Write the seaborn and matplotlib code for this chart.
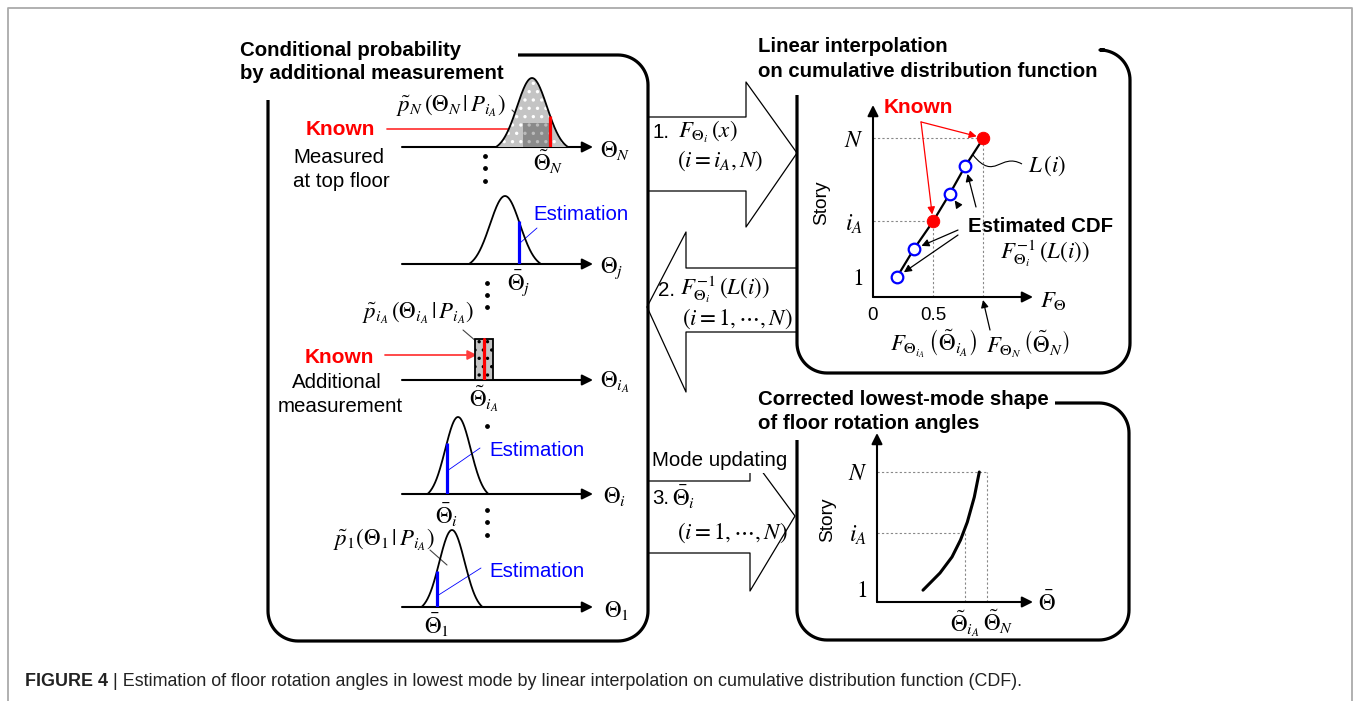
import numpy as np
import seaborn as sns
import matplotlib
matplotlib.use("Agg")
import matplotlib.pyplot as plt
from matplotlib.path import Path
from matplotlib.patches import PathPatch

# ---- values ----
# distribution rows: theta measured along each row's axis (0 = axis start)
row_names = ["N", "j", "i", "1"]
row_axis_y = [147, 264, 494, 607]          # where each row's axis sits (px)
row_means = [130, 103, 56, 50]
row_sigmas = [15, 15, 12.7, 12.7]
row_peaks = [69, 68, 77, 77]
row_marks = [148, 117, 45, 35]              # known value (N) and estimations
shade_N = [121, 148]                        # darker overlap under the top bell
shade_N_top = 24
iA_axis_y = 380
iA_rect = [73, 91]
iA_rect_height = 41
iA_known = 82

# CDF panel
cdf_story = [1, 2, 3, 4, 5, 6]
cdf_value = [0.20, 0.34, 0.50, 0.64, 0.77, 0.92]
cdf_known = [False, False, True, False, False, True]
cdf_yticks = [1, 3, 6]
cdf_yticklabels = ["$1$", "$i_A$", "$N$"]
cdf_xticks = [0, 0.5]
cdf_xticklabels = ["0", "0.5"]

# corrected mode shape panel
mode_theta = [0.46, 0.63, 0.75, 0.835, 0.903, 0.973, 1.023]
mode_story = [0.91, 1.65, 2.34, 3.07, 3.84, 4.92, 6.0]
mode_yticks = [1, 3.37, 6]
mode_yticklabels = ["$1$", "$i_A$", "$N$"]
mode_theta_iA = 0.88
mode_theta_N = 1.10

W, H = 1356, 701

sns.set_theme(style="white")
plt.rcParams["font.family"] = ["Liberation Sans", "DejaVu Sans"]
plt.rcParams["mathtext.fontset"] = "stix"
plt.rcParams["hatch.linewidth"] = 1.2
for key in ["text.color", "axes.labelcolor", "xtick.color", "ytick.color"]:
    plt.rcParams[key] = "black"

fig = plt.figure(figsize=(W / 100, H / 100), dpi=100)
ov = fig.add_axes([0, 0, 1, 1])
ov.set_xlim(0, W)
ov.set_ylim(H, 0)
ov.axis("off")


def px_axes(x0, y0, x1, y1):
    ax = fig.add_axes([x0 / W, 1 - y1 / H, (x1 - x0) / W, (y1 - y0) / H])
    ax.set_facecolor("none")
    return ax


def bell(mu, sd, peak, cut=2.4):
    x = np.linspace(mu - cut * sd, mu + cut * sd, 161)
    z = (x - mu) / sd
    c = np.exp(-cut ** 2 / 2)
    y = peak * (np.exp(-z ** 2 / 2) - c) / (1 - c)
    return x, y


def panel(x_start, top, right, bottom, left, y_start, r=30):
    t = np.linspace(0, np.pi / 2, 20)
    xs = [x_start, right - r]
    ys = [top, top]
    xs += list(right - r + r * np.sin(t)); ys += list(top + r - r * np.cos(t))
    xs += [right]; ys += [bottom - r]
    xs += list(right - r + r * np.cos(t)); ys += list(bottom - r + r * np.sin(t))
    xs += [left + r]; ys += [bottom]
    xs += list(left + r - r * np.sin(t)); ys += list(bottom - r + r * np.cos(t))
    xs += [left]; ys += [y_start]
    ov.plot(xs, ys, color="black", lw=2.3, solid_capstyle="butt")


def arrow(x0, y0, x1, y1, color="black", lw=1.5, ms=14):
    ov.annotate("", xy=(x1, y1), xytext=(x0, y0),
                arrowprops=dict(arrowstyle="-|>", color=color, lw=lw,
                                mutation_scale=ms, shrinkA=0, shrinkB=0))


def line(xs, ys, color="black", lw=0.8, **kw):
    ov.plot(xs, ys, color=color, lw=lw, **kw)


# outer frame
line([8, 8, 1352, 1352], [701, 8, 8, 701], color="#aaaaaa", lw=1.3)

# panels
panel(518, 55, 648, 641, 268, 100)
panel(1105, 50, 1130, 373, 797, 95)
panel(1055, 403, 1129, 640, 797, 440)

# big block arrows
line([648, 746, 746, 797, 746, 746, 648], [117, 117, 82, 153, 227, 191, 191], lw=0.9)
line([797, 686, 686, 647, 686, 686, 797], [268, 268, 232, 307, 392, 332, 332], lw=0.9)
line([648, 750, 750, 795, 750, 750, 648], [481, 481, 455, 516, 591, 553, 553], lw=0.9)

# titles
tb = dict(fontsize=14.7, fontweight="bold", color="black")
ov.text(240, 56, "Conditional probability", va="baseline", **tb)
ov.text(240, 79, "by additional measurement", va="baseline", **tb)
ov.text(758, 52, "Linear interpolation", va="baseline", **tb)
ov.text(758, 77, "on cumulative distribution function", va="baseline", **tb)
ov.text(758, 405, "Corrected lowest-mode shape", va="baseline", **tb)
ov.text(758, 429, "of floor rotation angles", va="baseline", **tb)

# ---- distribution rows ----
for k, name in enumerate(row_names):
    ay = row_axis_y[k]
    ax = px_axes(402, ay - 95, 593, ay)
    ax.set_xlim(0, 191)
    ax.set_ylim(0, 95)
    ax.axis("off")
    x, y = bell(row_means[k], row_sigmas[k], row_peaks[k])
    if name == "N":
        ax.fill_between(x, 0, y, facecolor="#c4c4c4", edgecolor="white",
                        hatch="..", linewidth=0)
        m = (x >= shade_N[0]) & (x <= shade_N[1])
        ax.fill_between(x[m], 0, np.minimum(y[m], shade_N_top),
                        facecolor="#8a8a8a", edgecolor="#bbbbbb", hatch="..",
                        linewidth=0)
    sns.lineplot(x=x, y=y, ax=ax, color="black", lw=1.3)
    hm = np.interp(row_marks[k], x, y)
    mc = "red" if name == "N" else "blue"
    ax.plot([row_marks[k], row_marks[k]], [0, hm], color=mc, lw=2.3,
            solid_capstyle="butt")
    arrow(402, ay, 593, ay, lw=1.5, ms=16)

# additional measurement row
ax = px_axes(402, iA_axis_y - 95, 593, iA_axis_y)
ax.set_xlim(0, 191)
ax.set_ylim(0, 95)
ax.axis("off")
ax.bar([(iA_rect[0] + iA_rect[1]) / 2], [iA_rect_height],
       width=iA_rect[1] - iA_rect[0], color="#c4c4c4", edgecolor="black",
       hatch="..", linewidth=1.3)
ax.plot([iA_known, iA_known], [0, iA_rect_height], color="red", lw=2.3)
arrow(402, iA_axis_y, 593, iA_axis_y, lw=1.5, ms=16)

# row labels
mt = dict(fontsize=16.5, color="black", va="center")
ov.text(600, 150, r"$\Theta_N$", **mt)
ov.text(600, 268, r"$\Theta_j$", **mt)
ov.text(600, 382, r"$\Theta_{i_A}$", **mt)
ov.text(603, 496, r"$\Theta_i$", **mt)
ov.text(604, 610, r"$\Theta_1$", **mt)

ov.text(548, 162, r"$\tilde{\Theta}_N$", ha="center", **mt)
ov.text(519, 283, r"$\bar{\Theta}_j$", ha="center", **mt)
ov.text(484, 399, r"$\tilde{\Theta}_{i_A}$", ha="center", **mt)
ov.text(447, 515, r"$\bar{\Theta}_i$", ha="center", **mt)
ov.text(437, 625, r"$\bar{\Theta}_1$", ha="center", **mt)

ov.text(396, 106, r"$\tilde{p}_N\,\left(\Theta_N\,|\,P_{i_A}\right)$", **mt)
ov.text(362, 313, r"$\tilde{p}_{i_A}\,\left(\Theta_{i_A}\,|\,P_{i_A}\right)$", **mt)
ov.text(333, 540, r"$\tilde{p}_1\left(\Theta_1\,|\,P_{i_A}\right)$", **mt)
line([512, 527], [110, 125], color="#444444", lw=0.8)
line([463, 477], [330, 342], color="#444444", lw=0.8)
line([430, 447], [550, 565], color="#444444", lw=0.8)

# dots
for dx, dys in [(485, [156, 168, 181]), (487, [283, 295, 307]),
                (487, [426]), (487, [510, 522, 535])]:
    ov.scatter([dx] * len(dys), dys, s=6, color="black", zorder=5)

# known / estimation notes
kb = dict(fontsize=15, fontweight="bold", color="red", va="baseline")
ov.text(306, 135, "Known", **kb)
ov.text(305, 363, "Known", **kb)
arrow(387, 129, 548, 129, color="#ff3c3c", lw=1.3, ms=14)
arrow(385, 355, 477, 355, color="#ff3c3c", lw=1.3, ms=14)

nt = dict(fontsize=14.8, color="black", va="baseline")
ov.text(293, 163, "Measured", **nt)
ov.text(293, 187, "at top floor", **nt)
ov.text(292, 388, "Additional", **nt)
ov.text(278, 412, "measurement", **nt)

et = dict(fontsize=14.7, color="blue", va="baseline")
ov.text(533, 220, "Estimation", **et)
ov.text(489, 456, "Estimation", **et)
ov.text(489, 577, "Estimation", **et)
line([537, 520], [228, 243], color="blue", lw=0.6)
line([480, 447], [448, 471], color="blue", lw=0.6)
line([481, 437], [568, 596], color="blue", lw=0.6)

# block arrow labels
st = dict(fontsize=14.8, va="center")
ov.text(653, 132, "1.", **st)
ov.text(678, 132, r"$F_{\Theta_i}\,\left(x\right)$", **mt)
ov.text(677, 161, r"$(i=i_A,N)$", **mt)
ov.text(658, 290, "2.", **st)
ov.text(680, 289, r"$F_{\Theta_i}^{-1}\,\left(L(i)\right)$", **mt)
ov.text(682, 319, r"$(i=1,\cdots,N)$", **mt)
ov.text(652, 461, "Mode updating", fontsize=14.8, va="center", zorder=6,
        bbox=dict(facecolor="white", edgecolor="none", pad=1.5))
ov.text(652, 498, "3.", **st)
ov.text(672, 497, r"$\bar{\Theta}_i$", **mt)
ov.text(677, 533, r"$(i=1,\cdots,N)$", **mt)

# ---- CDF panel ----
ax = px_axes(873, 105, 1033, 297)
ax.set_xlim(0, 1.333)
ax.set_ylim(0.28, 7.19)
sns.despine(ax=ax, left=True, bottom=True)
for j in range(len(cdf_story)):
    if cdf_known[j]:
        ax.plot([0, cdf_value[j]], [cdf_story[j]] * 2, color="#888888",
                lw=0.8, ls=(0, (2, 2)))
        ax.plot([cdf_value[j]] * 2, [0.28, cdf_story[j]], color="#888888",
                lw=0.8, ls=(0, (2, 2)))
sns.lineplot(x=cdf_value, y=cdf_story, ax=ax, color="black", lw=1.6)
kv = [v for v, kk in zip(cdf_value, cdf_known) if kk]
ks = [s for s, kk in zip(cdf_story, cdf_known) if kk]
ev = [v for v, kk in zip(cdf_value, cdf_known) if not kk]
es = [s for s, kk in zip(cdf_story, cdf_known) if not kk]
sns.scatterplot(x=kv, y=ks, ax=ax, color="red", s=80, edgecolor="red", zorder=4)
sns.scatterplot(x=ev, y=es, ax=ax, facecolor="white", edgecolor="blue", s=70,
                linewidth=1.6, zorder=4)
ax.set_yticks(cdf_yticks)
ax.set_yticklabels(cdf_yticklabels, fontsize=17)
ax.set_xticks(cdf_xticks)
ax.set_xticklabels(cdf_xticklabels, fontsize=13.5)
ax.tick_params(length=0, pad=7)
ax.set_xlabel("")
ax.set_ylabel("")
ax.annotate("", xy=(0, 1), xytext=(0, 0), xycoords="axes fraction",
            arrowprops=dict(arrowstyle="-|>", color="black", lw=1.5,
                            mutation_scale=16, shrinkA=0, shrinkB=0))
ax.annotate("", xy=(1, 0), xytext=(0, 0), xycoords="axes fraction",
            arrowprops=dict(arrowstyle="-|>", color="black", lw=1.5,
                            mutation_scale=16, shrinkA=0, shrinkB=0))
# known arrows
for v, s in zip(kv, ks):
    ax.annotate("", xy=(v, s), xytext=(0.4, 6.58),
                arrowprops=dict(arrowstyle="-|>", color="red", lw=0.9,
                                mutation_scale=11, shrinkA=0, shrinkB=5))
# estimated-CDF arrows
for (x0, y0), j in zip([(0.858, 3.52), (0.708, 3.59), (0.708, 2.69), (0.708, 2.51)],
                       [4, 3, 1, 0]):
    ax.annotate("", xy=(cdf_value[j], cdf_story[j]), xytext=(x0, y0),
                arrowprops=dict(arrowstyle="-|>", color="black", lw=0.9,
                                mutation_scale=11, shrinkA=0, shrinkB=6))

ov.text(884, 113, "Known", **kb)
ov.text(822, 203, "Story", fontsize=13.8, rotation=90, ha="center", va="center")
ov.text(1028, 166, r"$L\,\left(i\right)$", **mt)
wave = Path([(973, 155), (995, 182), (1000, 152), (1022, 164)],
            [Path.MOVETO, Path.CURVE4, Path.CURVE4, Path.CURVE4])
ov.add_patch(PathPatch(wave, facecolor="none", edgecolor="black", lw=0.8))
ov.text(968, 232, "Estimated CDF", fontsize=14.7, fontweight="bold", va="baseline")
ov.text(1000, 253, r"$F_{\Theta_i}^{-1}\,\left(L(i)\right)$", **mt)
ov.text(1040, 301, r"$F_\Theta$", **mt)
ov.text(890, 344, r"$F_{\Theta_{i_A}}\,\left(\tilde{\Theta}_{i_A}\right)$", **mt)
ov.text(986, 344, r"$F_{\Theta_N}\,\left(\tilde{\Theta}_N\right)$", **mt)
arrow(990, 330, 983, 300, lw=0.9, ms=11)

# ---- corrected mode shape panel ----
ax = px_axes(877, 433, 1033, 602)
ax.set_xlim(0, 1.56)
ax.set_ylim(0.4, 7.68)
sns.despine(ax=ax, left=True, bottom=True)
for tv, sv in [(mode_theta_iA, mode_yticks[1]), (mode_theta_N, mode_yticks[2])]:
    ax.plot([0, tv], [sv, sv], color="#888888", lw=0.8, ls=(0, (2, 2)))
    ax.plot([tv, tv], [0.4, sv], color="#888888", lw=0.8, ls=(0, (2, 2)))
sns.lineplot(x=mode_theta, y=mode_story, ax=ax, color="black", lw=2.2,
             sort=False, solid_capstyle="round")
ax.set_yticks(mode_yticks)
ax.set_yticklabels(mode_yticklabels, fontsize=17)
ax.set_xticks([])
ax.tick_params(length=0, pad=7)
ax.set_xlabel("")
ax.set_ylabel("")
ax.annotate("", xy=(0, 1), xytext=(0, 0), xycoords="axes fraction",
            arrowprops=dict(arrowstyle="-|>", color="black", lw=1.5,
                            mutation_scale=16, shrinkA=0, shrinkB=0))
ax.annotate("", xy=(1, 0), xytext=(0, 0), xycoords="axes fraction",
            arrowprops=dict(arrowstyle="-|>", color="black", lw=1.5,
                            mutation_scale=16, shrinkA=0, shrinkB=0))
ov.text(828, 520, "Story", fontsize=13.8, rotation=90, ha="center", va="center")
ov.text(1038, 604, r"$\bar{\Theta}$", **mt)
ov.text(965, 624, r"$\tilde{\Theta}_{i_A}$", ha="center", **mt)
ov.text(998, 622, r"$\tilde{\Theta}_N$", ha="center", **mt)

# caption
cap = ov.text(25, 686, "FIGURE 4", fontsize=12.9, fontweight="bold",
              va="baseline", color="#222222")
ov.annotate(" | Estimation of floor rotation angles in lowest mode by linear "
            "interpolation on cumulative distribution function (CDF).",
            xy=(1, 0), xycoords=cap, va="bottom", fontsize=12.9, color="#222222")

fig.savefig("out.png", dpi=100)
